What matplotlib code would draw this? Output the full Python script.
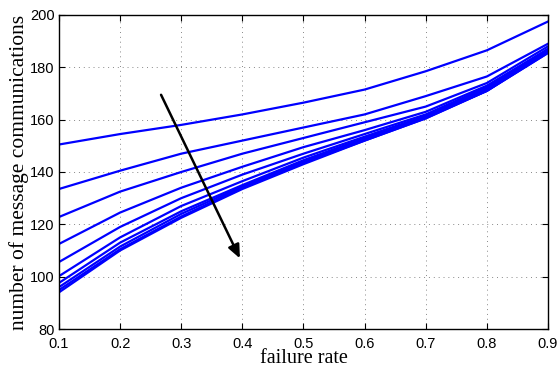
import numpy as np
import matplotlib
matplotlib.use("Agg")
import matplotlib.pyplot as plt

rate = [0.1, 0.2, 0.3, 0.4, 0.5, 0.6, 0.7, 0.8, 0.9]

# one curve per setting (top to bottom)
curves = [
    [150.5, 154.5, 158.0, 162.0, 166.5, 171.5, 178.5, 186.5, 197.5],
    [133.5, 140.5, 147.0, 152.0, 157.0, 162.0, 169.0, 176.5, 189.0],
    [122.8, 132.5, 140.0, 147.0, 153.0, 159.0, 165.0, 174.0, 188.0],
    [112.5, 124.5, 134.0, 142.0, 149.5, 156.0, 163.0, 173.0, 187.0],
    [105.6, 119.0, 130.0, 139.0, 147.0, 154.5, 162.0, 172.5, 187.0],
    [100.2, 115.0, 127.0, 136.5, 145.5, 153.5, 161.5, 172.0, 186.5],
    [97.6, 113.0, 125.0, 135.0, 144.5, 153.0, 161.0, 171.5, 186.0],
    [96.0, 111.5, 124.0, 134.5, 144.0, 152.5, 161.0, 171.0, 186.0],
    [94.9, 110.5, 123.0, 134.0, 143.5, 152.0, 160.5, 171.0, 185.5],
    [94.0, 110.0, 122.5, 133.5, 143.0, 152.0, 160.5, 171.0, 185.5],
]

arrow_start = (0.267, 169.5)
arrow_end = (0.396, 107.0)

fig = plt.figure(figsize=(5.59, 3.71), dpi=100)
ax = fig.add_axes([0.1055, 0.1132, 0.8748, 0.8464])

for c in curves:
    ax.plot(rate, c, color="blue", lw=1.6)

ax.annotate("", xy=arrow_end, xytext=arrow_start,
            arrowprops=dict(arrowstyle="-|>,head_length=0.8,head_width=0.35",
                            color="black", lw=1.8, shrinkA=0, shrinkB=0))

ax.set_xlim(0.1, 0.9)
ax.set_ylim(80, 200)
ax.set_xticks(rate)
ax.set_xticklabels([f"{r:.1f}" for r in rate])
ax.set_yticks(range(80, 201, 20))
ax.grid(True, ls=(0, (1, 4)), color="#888888", lw=0.7)
ax.tick_params(direction="in", top=True, right=True, length=4, labelsize=10.5)
ax.tick_params(axis="x", pad=5.5)
ax.tick_params(axis="y", pad=3)
for lab in ax.get_xticklabels() + ax.get_yticklabels():
    lab.set_family(["Liberation Sans", "DejaVu Sans"])
for s in ax.spines.values():
    s.set_linewidth(1.0)

ax.set_xlabel("failure rate", family="Liberation Serif", fontsize=14.5, labelpad=-1)
ax.set_ylabel("number of message communications", family="Liberation Serif",
              fontsize=15.5, labelpad=1)

fig.savefig("out.png", dpi=100)
